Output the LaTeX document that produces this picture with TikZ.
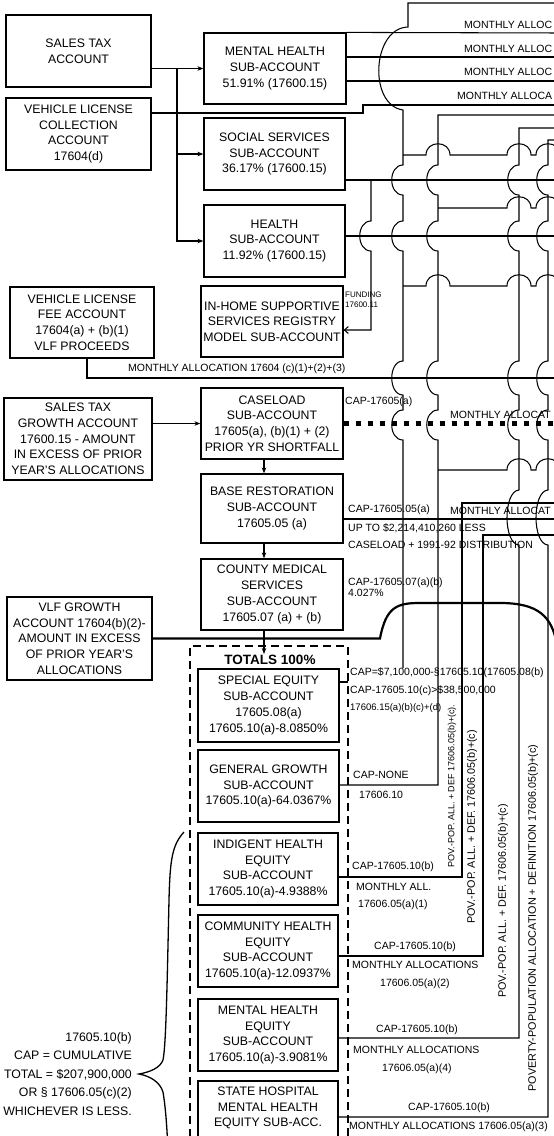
\documentclass[tikz,border=0pt]{standalone}
\usepackage{fontspec}
\setmainfont{Liberation Sans}
\usepackage{tikz}
\usetikzlibrary{arrows.meta}
\newcommand{\edgex}{560}

\begin{document}
\begin{tikzpicture}[x=1pt,y=-1pt,
    acct/.style={draw,line width=1.2pt,align=center,inner sep=0pt,
        font=\fontsize{12.3}{15.7}\selectfont},
    wire/.style={line width=1.05pt},
    feed/.style={wire,-{Stealth[length=6pt,width=4.5pt]}},
    lbl/.style={anchor=west,inner sep=0pt,align=left,
        font=\fontsize{10.5}{11}\selectfont},
    vlbl/.style={rotate=90,inner sep=0pt,font=\fontsize{10.8}{11}\selectfont}
]
\useasboundingbox (0,0) rectangle (554,1136);
\fill[white] (0,0) rectangle (554,1136);
\clip (0,0) rectangle (554,1136);

% source accounts
\node[acct,minimum width=145pt,minimum height=72pt] (salestax) at (78.5,51) {SALES TAX\\ACCOUNT};
\node[acct,minimum width=145pt,minimum height=72pt] (vlcoll) at (78.5,134) {VEHICLE LICENSE\\COLLECTION\\ACCOUNT\\17604(d)};
\node[acct,minimum width=144pt,minimum height=71pt] (vlfee) at (82,322.5) {VEHICLE LICENSE\\FEE ACCOUNT\\17604(a) + (b)(1)\\VLF PROCEEDS};
\node[acct,minimum width=148pt,minimum height=82pt] (stgrowth) at (78,439) {SALES TAX\\GROWTH ACCOUNT\\17600.15 - AMOUNT\\IN EXCESS OF PRIOR\\YEAR'S ALLOCATIONS};
\node[acct,minimum width=145pt,minimum height=83pt] (vlfgrowth) at (79.5,638.5) {VLF GROWTH\\ACCOUNT 17604(b)(2)-\\AMOUNT IN EXCESS\\OF PRIOR YEAR'S\\ALLOCATIONS};

% sub-accounts
\node[acct,minimum width=142pt,minimum height=71pt] (mhsub) at (275,68.5) {MENTAL HEALTH\\SUB-ACCOUNT\\51.91\% (17600.15)};
\node[acct,minimum width=141pt,minimum height=72pt] (socsub) at (274.5,154) {SOCIAL SERVICES\\SUB-ACCOUNT\\36.17\% (17600.15)};
\node[acct,minimum width=141pt,minimum height=72pt] (hlthsub) at (274.5,241) {HEALTH\\SUB-ACCOUNT\\11.92\% (17600.15)};
\node[acct,minimum width=142pt,minimum height=71pt] (ihsssub) at (272,321.5) {IN-HOME SUPPORTIVE\\SERVICES REGISTRY\\MODEL SUB-ACCOUNT};
\node[acct,minimum width=142pt,minimum height=71pt] (casesub) at (272,423.5) {CASELOAD\\SUB-ACCOUNT\\17605(a), (b)(1) + (2)\\PRIOR YR SHORTFALL};
\node[acct,minimum width=142pt,minimum height=69pt] (basesub) at (272,508.5) {BASE RESTORATION\\SUB-ACCOUNT\\17605.05 (a)};
\node[acct,minimum width=142pt,minimum height=71pt] (cmssub) at (272,594.5) {COUNTY MEDICAL\\SERVICES\\SUB-ACCOUNT\\17605.07 (a) + (b)};

% equity sub-accounts
\node[font=\fontsize{13.5}{15}\selectfont\bfseries,inner sep=1pt] (totals) at (270,660) {TOTALS 100\%};
\node[acct,minimum width=141pt,minimum height=73pt] (speceq) at (268.5,705.5) {SPECIAL EQUITY\\SUB-ACCOUNT\\17605.08(a)\\17605.10(a)-8.0850\%};
\node[acct,minimum width=141pt,minimum height=72pt] (gengrowth) at (268.5,786) {GENERAL GROWTH\\SUB-ACCOUNT\\17605.10(a)-64.0367\%};
\node[acct,minimum width=140pt,minimum height=72pt] (indeq) at (268,869) {INDIGENT HEALTH\\EQUITY\\SUB-ACCOUNT\\17605.10(a)-4.9388\%};
\node[acct,minimum width=140pt,minimum height=72pt] (commeq) at (268,951) {COMMUNITY HEALTH\\EQUITY\\SUB-ACCOUNT\\17605.10(a)-12.0937\%};
\node[acct,minimum width=140pt,minimum height=72pt] (mheq) at (268,1035) {MENTAL HEALTH\\EQUITY\\SUB-ACCOUNT\\17605.10(a)-3.9081\%};
\node[acct,minimum width=140pt,minimum height=72pt] (shosp) at (268,1117) {STATE HOSPITAL\\MENTAL HEALTH\\EQUITY SUB-ACC.\\\strut};
\draw[wire,dash pattern=on 8pt off 5pt] (190,1150) -- (190,646) -- (348,646) -- (348,1150);

% sales tax feeds
\coordinate (stbus) at (177,68.5);
\draw[feed] (salestax.east |- mhsub.west) -- (mhsub.west);
\draw[feed] (stbus) |- (socsub.west);
\draw[feed] (stbus) |- (hlthsub.west);

% vehicle license collection
\draw[wire] (vlcoll.east |- 0,113) -- (363,113) -- (363,105) -- (\edgex,105);

% monthly lines
\draw[wire] (mhsub.north east) -- (\edgex,33);
\draw[wire] (mhsub.east |- 0,57) -- (\edgex,57);
\draw[wire] (mhsub.east |- 0,81) -- (\edgex,81);
\foreach \ly/\lx/\lt [count=\i] in {25/464/MONTHLY ALLOC,49/464/MONTHLY ALLOC,72/464/MONTHLY ALLOC,96/457/MONTHLY ALLOCA}
  \node[lbl] (monthly\i) at (\lx,\ly) {\lt};
\draw[wire] (socsub.east |- 0,180) -- (\edgex,180);
\draw[wire] (hlthsub.east |- 0,236) -- (\edgex,236);

% VLF proceeds
\draw[line width=2pt] ([xshift=5pt]vlfee.south) |- (\edgex,378);
\node[lbl] (vlfmonthly) at (128,369) {MONTHLY ALLOCATION 17604 (c)(1)+(2)+(3)};

% caseload
\draw[feed] (stgrowth.east |- casesub.west) -- (casesub.west);
\draw[line width=5pt,dash pattern=on 5pt off 7pt] (casesub.east) -- (\edgex,423.5);
\node[lbl] (capcase) at (345,402) {CAP-17605(a)};
\node[lbl] (monthlycase) at (450,415) {MONTHLY ALLOCAT};

% down the middle column
\coordinate (cmsout) at ([xshift=-8pt]cmssub.south);
\draw[feed] ([xshift=-8pt]casesub.south) -- ([xshift=-8pt]basesub.north);
\draw[feed] ([xshift=-8pt]basesub.south) -- ([xshift=-8pt]cmssub.north);
\draw[feed] (cmsout) -- (cmsout |- totals.north);

% base restoration
\draw[wire] (basesub.east |- 0,519) -- (\edgex,519);
\node[lbl] (capbase) at (348,510) {CAP-17605.05(a)};
\node[lbl] (monthlybase) at (450,511) {MONTHLY ALLOCAT};
\node[lbl] (uptobase) at (348,528) {UP TO \$2,214,410,260 LESS};
\node[lbl] (distbase) at (348,545) {CASELOAD + 1991-92 DISTRIBUTION};

% county medical
\node[lbl] (capcms) at (348,587.5) {CAP-17605.07(a)(b)\\4.027\%};

% VLF growth
\draw[line width=2.2pt] (vlfgrowth.east) -- (380,638.5) .. controls (386,606) and (398,603) .. (420,603) -- (500,603) .. controls (538,603) and (552,616) .. (557,645);

% funding
\draw[wire,-{Straight Barb[length=4pt,width=7pt]}] (371,180) -- (371,221) .. controls (356,221) and (356,251) .. (371,251) -- (371,330) -- (ihsssub.east |- 0,330);
\node[anchor=west,inner sep=0pt,align=left,font=\fontsize{8}{10}\selectfont] (funding) at (345,300) {FUNDING\\17600.11};

% bus to special equity
\draw[wire] (\edgex,3) -- (408,3) -- (408,27) .. controls (372,28) and (368,105) .. (403,110)
  \foreach \cy/\rr in {180/15,236/15,378/17,425/15}
    { -- (403,\cy-\rr) .. controls (388,\cy-\rr) and (388,\cy+\rr) .. (403,\cy+\rr) }
  -- (403,668);

% bus to general growth
\draw[wire] (\edgex,115) -- (438,115)
  \foreach \cy/\rr in {180/15,236/15,378/17,425/15}
    { -- (438,\cy-\rr) .. controls (423,\cy-\rr) and (423,\cy+\rr) .. (438,\cy+\rr) }
  -- (438,785) -- (gengrowth.east |- 0,785);

% buses to mental health equity and state hospital
\foreach \bx/\ty/\ey/\nm in {519/128/1038/mheq,548/140/1117/shosp}
  \draw[wire] (\edgex,\ty) -- (\bx,\ty)
    \foreach \cy/\rr in {180/15,236/15,378/17,425/15}
      { -- (\bx,\cy-\rr) .. controls (\bx-15,\cy-\rr) and (\bx-15,\cy+\rr) .. (\bx,\cy+\rr) }
    -- (\bx,490) .. controls (\bx-16,491) and (\bx-16,544) .. (\bx,545)
    -- (\bx,\ey) -- (\nm.east |- 0,\ey);

% buses to indigent and community health
\draw[wire] (\edgex,503) -- (462,503) -- (462,877) -- (indeq.east |- 0,877);
\draw[wire] (\edgex,535) -- (483,535) -- (483,956) -- (commeq.east |- 0,956);

% cross lines jumping the buses
\foreach \hy/\hs/\hj in {155/403/{438,519,548},208/438/{519,548},286/403/{438,519,548},470/438/{519,548}}
  \draw[wire] (\hs,\hy) \foreach \jx in \hj
    { -- (\jx-12,\hy) .. controls (\jx-12,\hy-15) and (\jx+12,\hy-15) .. (\jx+12,\hy) } -- (\edgex,\hy);

% equity lines and labels
\draw[wire] (speceq.east |- 0,682) -- (348,682);
\node[lbl] (capse1) at (350,673) {CAP=\$7,100,000-§17605.10(17605.08(b)};
\node[lbl] (capse2) at (350,691) {CAP-17605.10(c)>\$38,500,000};
\node[lbl,font=\fontsize{9.5}{11}\selectfont] (capse3) at (350,708) {17606.15(a)(b)(c)+(d)};
\node[lbl] (capgg) at (353,775) {CAP-NONE};
\node[lbl] (secgg) at (359,795) {17606.10};
\node[lbl] (capind) at (352,867) {CAP-17605.10(b)};
\node[lbl] (monind) at (356,887) {MONTHLY ALL.};
\node[lbl] (secind) at (358,905) {17606.05(a)(1)};
\node[lbl] (capcomm) at (374,947) {CAP-17605.10(b)};
\node[lbl] (moncomm) at (352,965) {MONTHLY ALLOCATIONS};
\node[lbl] (seccomm) at (380,984) {17606.05(a)(2)};
\node[lbl] (capmh) at (376,1030) {CAP-17605.10(b)};
\node[lbl] (monmh) at (353,1050) {MONTHLY ALLOCATIONS};
\node[lbl] (secmh) at (382,1069) {17606.05(a)(4)};
\node[lbl] (capsh) at (408,1108) {CAP-17605.10(b)};
\node[lbl] (monsh) at (349,1127) {MONTHLY ALLOCATIONS 17606.05(a)(3)};
\node[vlbl,font=\fontsize{9}{10}\selectfont] (povind) at (452,786) {POV.-POP. ALL. + DEF 17606.05(b)+(c).};
\node[vlbl] (povcomm) at (472,827) {POV.-POP. ALL. + DEF. 17606.05(b)+(c)};
\node[vlbl] (povmh) at (503,901) {POV.-POP. ALL. + DEF. 17606.05(b)+(c)};
\node[vlbl] (povsh) at (533,918) {POVERTY-POPULATION ALLOCATION + DEFINITION 17606.05(b)+(c)};

% cumulative cap brace
\draw[line width=1.3pt] (184,832) .. controls (172,845) and (170,860) .. (169,900) .. controls (167,990) and (166,1045) .. (163,1060) .. controls (160,1068) and (150,1072) .. (139,1074) .. controls (150,1076) and (160,1082) .. (163,1092) .. controls (166,1110) and (167,1130) .. (168,1150);
\node[anchor=east,align=right,inner sep=0pt,font=\fontsize{12.3}{18.5}\selectfont] (captotal) at (132,1074) {17605.10(b)\\CAP = CUMULATIVE\\TOTAL = \$207,900,000\\OR § 17606.05(c)(2)\\WHICHEVER IS LESS.};
\end{tikzpicture}
\end{document}
